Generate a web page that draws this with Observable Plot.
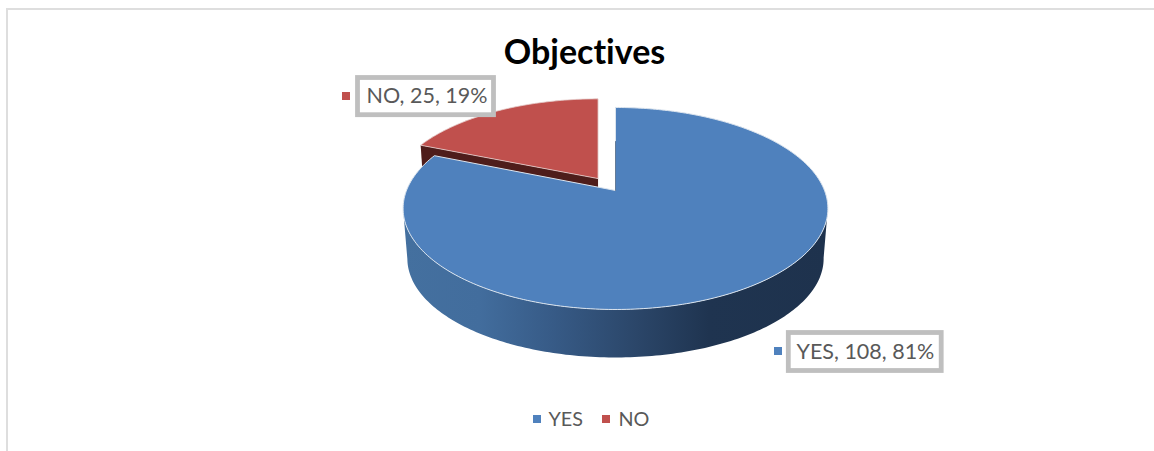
<!DOCTYPE html>
<html>
<head>
<meta charset="utf-8">
<title>Objectives</title>
<script src="https://cdn.jsdelivr.net/npm/d3@7"></script>
<script src="https://cdn.jsdelivr.net/npm/@observablehq/plot@0.6"></script>
<style>
  html, body { margin: 0; padding: 0; background: #fff; overflow: hidden; }
  #frame { position: absolute; left: 6px; top: 8px; right: -10px; bottom: -10px; border: 2px solid #dedede; }
  #chart { position: absolute; left: 0; top: 0; }
  #chart svg { display: block; }
  #chart text { font-variant-ligatures: none; }
</style>
</head>
<body>
<div id="frame"></div>
<div id="chart"></div>
<script>
// Survey answers
const categories = ["YES", "NO"];
const counts = [108, 25];
const explosions = [0, 0.15];

// Slice colours
const topColors = ["#4f81bd", "#c0504d"];
const cutColor = "#4e1d1b";
const gradientStops = [
  [0, "#44709f"], [0.18, "#426d9d"], [0.35, "#375b87"],
  [0.55, "#2b4669"], [0.72, "#1f3450"], [1, "#1e324d"]
];

// Pie geometry: a tilted disc seen in perspective, plus its extruded base
const W = 1154, H = 451;
const view = {cx: 615, cy: 190, rx: 209, ry: 97.8, k: 0.178};
const base = {drop: 50.4, scale: 0.98};

// Label and legend layout
const calloutBoxes = [
  {x1: 788.3, x2: 941.2, y1: 332.5, y2: 370.5, textX: 796, markX: 774, markY: 347},
  {x1: 357.5, x2: 493.5, y1: 77.5, y2: 114.7, textX: 366, markX: 342, markY: 92}
];
const legendSlots = [{legendMarkX: 533, legendTextX: 548}, {legendMarkX: 602, legendTextX: 618}];
const legendY = 415, markSize = 8;

const total = d3.sum(counts);
const arcs = d3.pie().sort(null)(counts);

// Maps an angle on a slice rim (or its apex, r = 0) to chart coordinates.
function project(theta, r, slice, lower) {
  const mid = (arcs[slice].startAngle + arcs[slice].endAngle) / 2;
  const e = explosions[slice];
  const u = r * Math.sin(theta);
  const v = -r * Math.cos(theta) - e * Math.cos(mid);
  const s = 1 / (1 - view.k * v);
  const f = lower ? base.scale : 1;
  return {
    x: view.cx + view.rx * u * s * f + view.rx * e * Math.sin(mid),
    y: view.cy + (lower ? base.drop : 0) + view.ry * v * s * f
  };
}

function rim(slice, lower) {
  const {startAngle: a0, endAngle: a1} = arcs[slice];
  const n = Math.ceil((a1 - a0) * 180 / Math.PI);
  return d3.range(n + 1).map((i) => project(a0 + (a1 - a0) * i / n, 1, slice, lower));
}

// The visible wall runs along the near rim, between its left and right extremes.
function frontWall(slice) {
  const nearPart = (points) =>
    points.slice(d3.greatestIndex(points, (d) => d.x), d3.leastIndex(points, (d) => d.x) + 1);
  return [...nearPart(rim(slice, false)), ...nearPart(rim(slice, true)).reverse()];
}

const topFace = (i) => [project(0, 0, i, false), ...rim(i, false), project(0, 0, i, false)];
const cutFace = (i, angle) => [
  project(angle, 1, i, false), project(0, 0, i, false),
  project(0, 0, i, true), project(angle, 1, i, true)
];

const polygon = (points, options) => Plot.line(points, {x: "x", y: "y", curve: "linear", ...options});

const labels = categories.map((name, i) => ({
  name, color: topColors[i], ...calloutBoxes[i], ...legendSlots[i],
  text: `${name}, ${counts[i]}, ${d3.format(".0%")(counts[i] / total)}`
}));

const sideGradient = () => {
  const defs = d3.create("svg:defs");
  const g = defs.append("linearGradient").attr("id", "side-shade");
  gradientStops.forEach(([o, c]) => g.append("stop").attr("offset", o).attr("stop-color", c));
  return defs.node();
};

const square = (xOf, yOf) => Plot.rect(labels, {
  x1: xOf, x2: (d) => xOf(d) + markSize,
  y1: yOf, y2: (d) => yOf(d) + markSize, fill: "color"
});

const chart = Plot.plot({
  width: W, height: H, margin: 0,
  style: {background: "transparent"},
  x: {domain: [0, W], range: [0, W], axis: null},
  y: {domain: [0, H], range: [0, H], axis: null},
  marks: [
    sideGradient,
    // exploded NO slice
    polygon(cutFace(1, arcs[1].startAngle), {fill: cutColor, stroke: "none"}),
    polygon(topFace(1), {fill: topColors[1], stroke: "#e6cfce", strokeWidth: 0.8}),
    // YES slice
    polygon(frontWall(0), {fill: "url(#side-shade)", stroke: "none"}),
    polygon(topFace(0), {fill: topColors[0], stroke: "#dbe4ee", strokeWidth: 1}),
    polygon([project(0, 0.55, 0, false), project(0, 0, 0, false)], {stroke: "#2f4d73", strokeWidth: 0.7}),
    // call-outs
    Plot.rect(labels, {x1: "x1", x2: "x2", y1: "y1", y2: "y2", fill: "white", stroke: "#bfbfbf", strokeWidth: 4.8}),
    square((d) => d.markX, (d) => d.markY),
    Plot.text(labels, {
      x: "textX", y: (d) => (d.y1 + d.y2) / 2, text: "text",
      textAnchor: "start", lineAnchor: "middle", fontFamily: "Lato", fontSize: 21.5, fill: "#595959"
    }),
    // title
    Plot.text(["Objectives"], {
      x: [584], y: [53], text: (d) => d, textAnchor: "middle", lineAnchor: "middle",
      fontFamily: "Lato", fontWeight: "bold", fontSize: 34, fill: "#000"
    }),
    // legend
    square((d) => d.legendMarkX, () => legendY),
    Plot.text(labels, {
      x: "legendTextX", y: () => legendY + 4, text: "name",
      textAnchor: "start", lineAnchor: "middle", fontFamily: "Lato", fontSize: 19.8, fill: "#595959"
    })
  ]
});
document.getElementById("chart").append(chart);
</script>
</body>
</html>
